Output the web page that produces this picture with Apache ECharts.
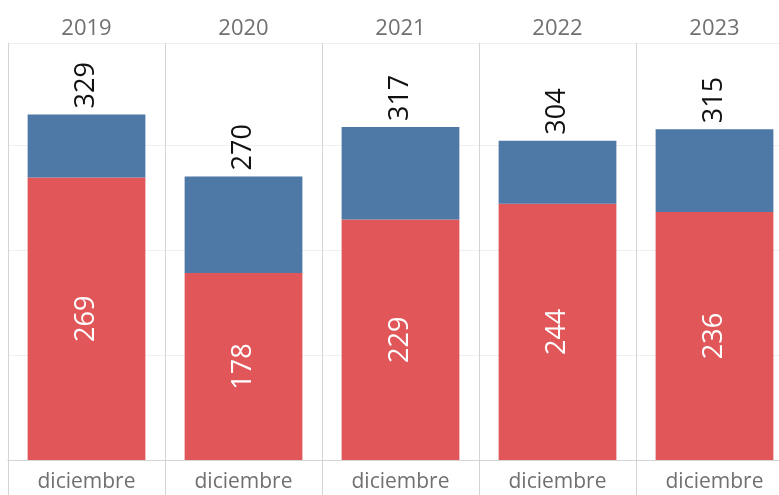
<!DOCTYPE html>
<html>
<head>
<meta charset="utf-8">
<script src="https://cdn.jsdelivr.net/npm/echarts@6/dist/echarts.min.js"></script>
<style>
html, body { margin: 0; padding: 0; background: #fff; }
#chart { width: 779px; height: 495px; }
</style>
</head>
<body>
<div id="chart"></div>
<script>
const years = ['2019', '2020', '2021', '2022', '2023']
const months = ['diciembre', 'diciembre', 'diciembre', 'diciembre', 'diciembre']
const redValues = [269, 178, 229, 244, 236]
const totals = [329, 270, 317, 304, 315]
const blueValues = totals.map((t, i) => t - redValues[i])

const font = '"Open Sans", "Noto Sans", sans-serif'
const sepColor = '#d4d4d4'

const chart = echarts.init(document.getElementById('chart'))
chart.setOption({
  animation: false,
  grid: { left: 8, right: -14, top: 43, bottom: 35, outerBoundsMode: 'none', containLabel: false },
  xAxis: [
    {
      type: 'category',
      position: 'top',
      data: years,
      axisLine: { show: true, lineStyle: { color: sepColor, width: 1 } },
      axisTick: { show: true, length: 33, lineStyle: { color: sepColor } },
      axisLabel: { color: '#707070', fontSize: 22, fontFamily: font, margin: 3 },
      splitLine: { show: true, lineStyle: { color: sepColor } },
    },
    {
      type: 'category',
      position: 'bottom',
      data: months,
      axisLine: { show: true, lineStyle: { color: sepColor, width: 1 } },
      axisTick: { show: true, length: 35, lineStyle: { color: sepColor } },
      axisLabel: { color: '#707070', fontSize: 21, fontFamily: font, margin: 12 },
    },
  ],
  yAxis: {
    type: 'value',
    min: 0,
    max: 397,
    interval: 100,
    axisLabel: { show: false },
    axisLine: { show: false },
    axisTick: { show: false },
    splitLine: { show: true, lineStyle: { color: '#efefef' } },
  },
  series: [
    {
      name: 'rojo',
      type: 'bar',
      stack: 'total',
      barWidth: '75%',
      data: redValues,
      itemStyle: { color: '#e15759' },
      label: {
        show: true,
        position: 'inside',
        rotate: 90,
        color: '#fff',
        fontSize: 27,
        fontFamily: font,
      },
    },
    {
      name: 'azul',
      type: 'bar',
      stack: 'total',
      barWidth: '75%',
      data: blueValues,
      itemStyle: { color: '#4e79a7' },
      label: {
        show: true,
        position: 'top',
        rotate: 90,
        align: 'left',
        verticalAlign: 'middle',
        distance: 6,
        color: '#111',
        fontSize: 27,
        fontFamily: font,
        formatter: p => totals[p.dataIndex],
      },
    },
  ],
})
</script>
</body>
</html>
